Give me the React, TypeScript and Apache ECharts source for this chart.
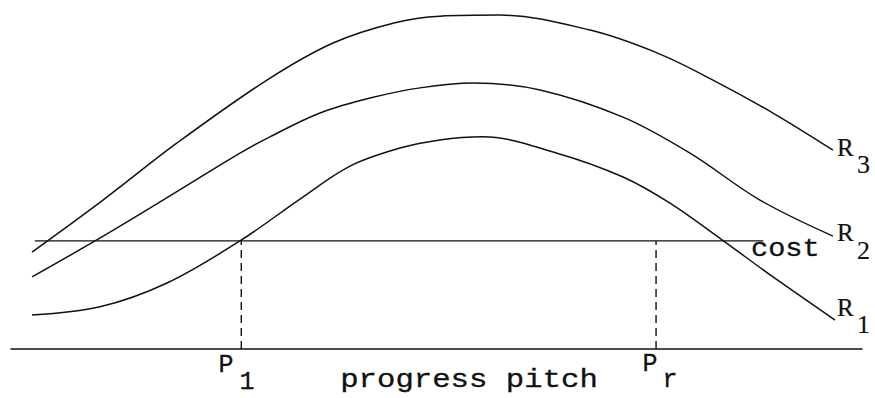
import React, { useEffect, useRef } from "react";
import * as echarts from "echarts";

// Curves: [progress pitch, value] (0..100 scale)
const r3Points: [number, number][] = [
  [2.47, 28.5], [10.81, 43.8], [19.51, 60.6], [30.08, 79.1], [37.84, 90.0],
  [45.0, 95.9], [50.41, 97.9], [57.46, 98.2], [68.04, 93.8], [75.91, 87.1],
  [82.49, 79.1], [89.54, 69.4], [96.59, 58.5],
];
const r2Points: [number, number][] = [
  [2.47, 21.2], [9.87, 31.8], [17.86, 43.8], [26.91, 57.6], [30.43, 62.4],
  [36.31, 69.4], [42.19, 73.8], [48.06, 76.8], [54.29, 78.2], [62.16, 76.2],
  [71.92, 68.2], [79.79, 57.6], [88.01, 43.8], [96.59, 33.2],
];
const r1Points: [number, number][] = [
  [2.47, 10.0], [10.46, 12.4], [18.33, 19.4], [26.91, 31.8], [33.96, 44.1],
  [39.84, 53.8], [45.71, 59.1], [50.41, 61.5], [55.46, 62.4], [64.16, 57.6],
  [71.92, 50.6], [77.44, 42.9], [83.55, 32.1], [89.54, 21.2], [96.83, 8.5],
];
const costLevel = 31.8;
const costRange = [2.8, 88.4];
const pLeft = 27.06;
const pRight = 75.8;

const ink = "#111";

export default function App() {
  const ref = useRef<HTMLDivElement>(null);
  useEffect(() => {
    if (!ref.current) return;
    const chart = echarts.init(ref.current, undefined, { renderer: "svg" });
    const curve = (name: string, data: [number, number][]) => ({
      name,
      type: "line",
      data,
      smooth: 0.35,
      showSymbol: false,
      silent: true,
      lineStyle: { color: ink, width: 1.5 },
    });
    const straight = (name: string, data: [number, number][], dashed = false) => ({
      name,
      type: "line",
      data,
      showSymbol: false,
      silent: true,
      lineStyle: { color: ink, width: 1.4, type: dashed ? [8, 5] : "solid" },
    });
    const mono = "'Liberation Mono', 'DejaVu Sans Mono', monospace";
    const serif = "'Liberation Serif', 'DejaVu Serif', serif";
    const txt = (
      text: string, x: number, y: number, font: string, size: number,
      align = "left", sx = 1, outline = 0.3,
    ) => ({
      type: "text",
      x,
      y,
      scaleX: sx,
      silent: true,
      style: {
        text,
        x: 0,
        y: 0,
        fill: ink,
        stroke: ink,
        lineWidth: outline,
        fontFamily: font,
        fontSize: size,
        textAlign: align,
        textVerticalAlign: "middle",
      },
    });
    chart.setOption({
      animation: false,
      backgroundColor: "#fff",
      grid: { left: 11, right: 13, top: 9, bottom: 49 },
      xAxis: {
        type: "value",
        min: 0,
        max: 100,
        axisLine: { show: true, onZero: true, lineStyle: { color: ink, width: 1.5 } },
        axisTick: { show: false },
        axisLabel: { show: false },
        splitLine: { show: false },
      },
      yAxis: {
        type: "value",
        min: 0,
        max: 100,
        show: false,
        splitLine: { show: false },
      },
      series: [
        curve("R3", r3Points),
        curve("R2", r2Points),
        curve("R1", r1Points),
        straight("cost", [[costRange[0], costLevel], [costRange[1], costLevel]]),
        straight("P1", [[pLeft, 0], [pLeft, costLevel]], true),
        straight("Pr", [[pRight, 0], [pRight, costLevel]], true),
      ],
      graphic: [
        txt("R", 837, 147, serif, 25, "left", 1, 0.2),
        txt("3", 857, 164, serif, 26, "left", 1, 0.2),
        txt("R", 837, 232, serif, 25, "left", 1, 0.2),
        txt("2", 857, 250, serif, 26, "left", 1, 0.2),
        txt("R", 837, 307, serif, 25, "left", 1, 0.2),
        txt("1", 857, 324, serif, 26, "left", 1, 0.2),
        txt("cost", 751, 249, mono, 26, "left", 1.1),
        txt("P", 226, 365, mono, 25, "center"),
        txt("1", 247, 382, mono, 25, "center"),
        txt("P", 650, 364, mono, 25, "center"),
        txt("r", 670, 380, mono, 25, "center"),
        txt("progress pitch", 469, 380, mono, 26, "center", 1.18),
      ],
    });
    return () => chart.dispose();
  }, []);
  return (
    <div
      ref={ref}
      style={{ position: "fixed", left: 0, top: 0, width: 875, height: 398, background: "#fff" }}
    />
  );
}
